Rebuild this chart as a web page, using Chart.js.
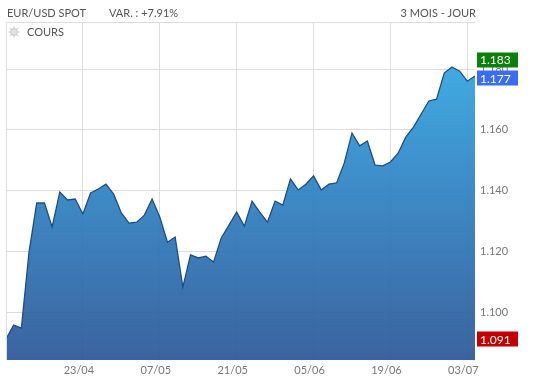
<!DOCTYPE html>
<html>
<head>
<meta charset="utf-8">
<script src="https://cdn.jsdelivr.net/npm/chart.js@4.4.1/dist/chart.umd.min.js"></script>
<style>
  html, body { margin: 0; padding: 0; background: #fff; }
  #wrap { position: relative; width: 546px; height: 383px; }
</style>
</head>
<body>
<div id="wrap"><canvas id="fxChart" width="546" height="383"></canvas></div>
<script>
// ------------------------------ data ------------------------------
const dates = [
    '09/04', '10/04', '11/04', '14/04', '15/04', '16/04', '17/04', '18/04', '21/04', '22/04',
    '23/04', '24/04', '25/04', '28/04', '29/04', '30/04', '01/05', '02/05', '05/05', '06/05',
    '07/05', '08/05', '09/05', '12/05', '13/05', '14/05', '15/05', '16/05', '19/05', '20/05',
    '21/05', '22/05', '23/05', '27/05', '28/05', '29/05', '30/05', '02/06', '03/06', '04/06',
    '05/06', '06/06', '09/06', '10/06', '11/06', '12/06', '13/06', '16/06', '17/06', '18/06',
    '19/06', '20/06', '23/06', '24/06', '25/06', '26/06', '27/06', '30/06', '01/07', '02/07',
    '03/07', '04/07'
];
const rates = [
    1.0911, 1.0957, 1.0947, 1.1198, 1.1359, 1.1359, 1.1280, 1.1395, 1.1369, 1.1372,
    1.1323, 1.1392, 1.1405, 1.1421, 1.1388, 1.1326, 1.1293, 1.1296, 1.1319, 1.1372,
    1.1313, 1.1230, 1.1247, 1.1082, 1.1188, 1.1178, 1.1184, 1.1165, 1.1244, 1.1286,
    1.1329, 1.1283, 1.1365, 1.1329, 1.1296, 1.1365, 1.1352, 1.1438, 1.1402, 1.1421,
    1.1448, 1.1402, 1.1421, 1.1425, 1.1491, 1.1589, 1.1547, 1.1563, 1.1484, 1.1481,
    1.1494, 1.1523, 1.1576, 1.1609, 1.1652, 1.1695, 1.1701, 1.1787, 1.1807, 1.1793,
    1.1760, 1.1777
];
const tickDates = ['23/04', '07/05', '21/05', '05/06', '19/06', '03/07'];
const tickValues = [1.100, 1.120, 1.140, 1.160, 1.180];

// badges on the right: high, last, low
const badgeValues = [1.183, 1.177, 1.091];
const badgeColors = ['#0b800b', '#3b6cf5', '#c40000'];

// ------------------------------ chart ------------------------------
const font = 'Lato, "Open Sans", sans-serif';
const plotLeft = 6, plotRight = 475, plotTop = 22, plotBottom = 360;

// gradient for the area, built once chartArea is known
function areaFill(context) {
    const area = context.chart.chartArea;
    if (!area) return '#3389c8';
    const g = context.chart.ctx.createLinearGradient(0, area.top, 0, area.bottom);
    g.addColorStop(0, 'rgba(52,176,233,0.93)');
    g.addColorStop(0.45, 'rgba(47,134,198,0.93)');
    g.addColorStop(1, 'rgba(44,88,152,0.93)');
    return g;
}

const extras = {
    id: 'extras',
    beforeDraw(chart) {
        const ctx = chart.ctx;
        ctx.save();
        ctx.fillStyle = '#fff';
        ctx.fillRect(0, 0, chart.width, chart.height);
        ctx.restore();
    },
    afterDraw(chart) {
        const ctx = chart.ctx;
        const a = chart.chartArea;
        const y = chart.scales.y;
        ctx.save();

        // box: top and left lines
        ctx.strokeStyle = '#dddddd';
        ctx.lineWidth = 1;
        ctx.beginPath();
        ctx.moveTo(a.left + 0.5, a.bottom);
        ctx.lineTo(a.left + 0.5, a.top + 0.5);
        ctx.lineTo(a.right, a.top + 0.5);
        ctx.stroke();

        // header texts
        ctx.font = '11px ' + font;
        ctx.fillStyle = '#555';
        ctx.textBaseline = 'middle';
        ctx.textAlign = 'left';
        ctx.fillText('EUR/USD SPOT', 7, 13);
        ctx.fillText('VAR. : +7.91%', 109, 13);
        ctx.textAlign = 'right';
        ctx.fillText('3 MOIS - JOUR', 476, 13);
        ctx.textAlign = 'left';
        ctx.fillText('COURS', 27, 32);

        // little gear icon
        ctx.strokeStyle = '#cfcfcf';
        ctx.fillStyle = '#e4e4e4';
        ctx.lineWidth = 1.2;
        for (let i = 0; i < 8; i++) {
            const ang = i * Math.PI / 4;
            ctx.beginPath();
            ctx.moveTo(14 + Math.cos(ang) * 3, 32 + Math.sin(ang) * 3);
            ctx.lineTo(14 + Math.cos(ang) * 5.5, 32 + Math.sin(ang) * 5.5);
            ctx.stroke();
        }
        ctx.beginPath();
        ctx.arc(14, 32, 3.2, 0, Math.PI * 2);
        ctx.fill();
        ctx.stroke();

        // value badges
        ctx.font = '12px ' + font;
        ctx.textAlign = 'left';
        badgeValues.forEach((v, i) => {
            const py = y.getPixelForValue(v);
            ctx.fillStyle = badgeColors[i];
            ctx.fillRect(477, Math.round(py) - 7.5, 41, 15);
            ctx.fillStyle = '#fff';
            ctx.fillText(v.toFixed(3), 480, py + 0.5);
        });
        ctx.restore();
    }
};

new Chart('fxChart', {
    type: 'line',
    data: {
        labels: dates,
        datasets: [{
            data: rates,
            borderColor: '#1d4d88',
            borderWidth: 1.3,
            backgroundColor: areaFill,
            fill: 'start',
            pointRadius: 0,
            tension: 0
        }]
    },
    options: {
        responsive: false,
        animation: false,
        events: [],
        layout: { padding: { top: plotTop, left: plotLeft, right: 0, bottom: 0 } },
        plugins: {
            legend: { display: false },
            tooltip: { enabled: false }
        },
        scales: {
            x: {
                type: 'category',
                offset: false,
                border: { display: false },
                grid: { color: '#dddddd', drawTicks: false },
                ticks: {
                    autoSkip: false,
                    maxRotation: 0,
                    padding: 4,
                    labelOffset: -4,
                    color: '#777',
                    font: { family: font, size: 11 }
                },
                afterBuildTicks(scale) {
                    scale.ticks = tickDates.map(d => ({ value: dates.indexOf(d) }));
                },
                afterFit(scale) { scale.height = 383 - plotBottom; }
            },
            y: {
                position: 'right',
                min: 1.0842,
                max: 1.1955,
                border: { display: false },
                grid: { color: '#dddddd', drawTicks: false },
                ticks: {
                    padding: 5,
                    color: '#777',
                    font: { family: font, size: 11 },
                    callback: v => v.toFixed(3)
                },
                afterBuildTicks(scale) {
                    scale.ticks = tickValues.map(v => ({ value: v }));
                },
                afterFit(scale) { scale.width = 546 - plotRight; }
            }
        }
    },
    plugins: [extras]
});
</script>
</body>
</html>
